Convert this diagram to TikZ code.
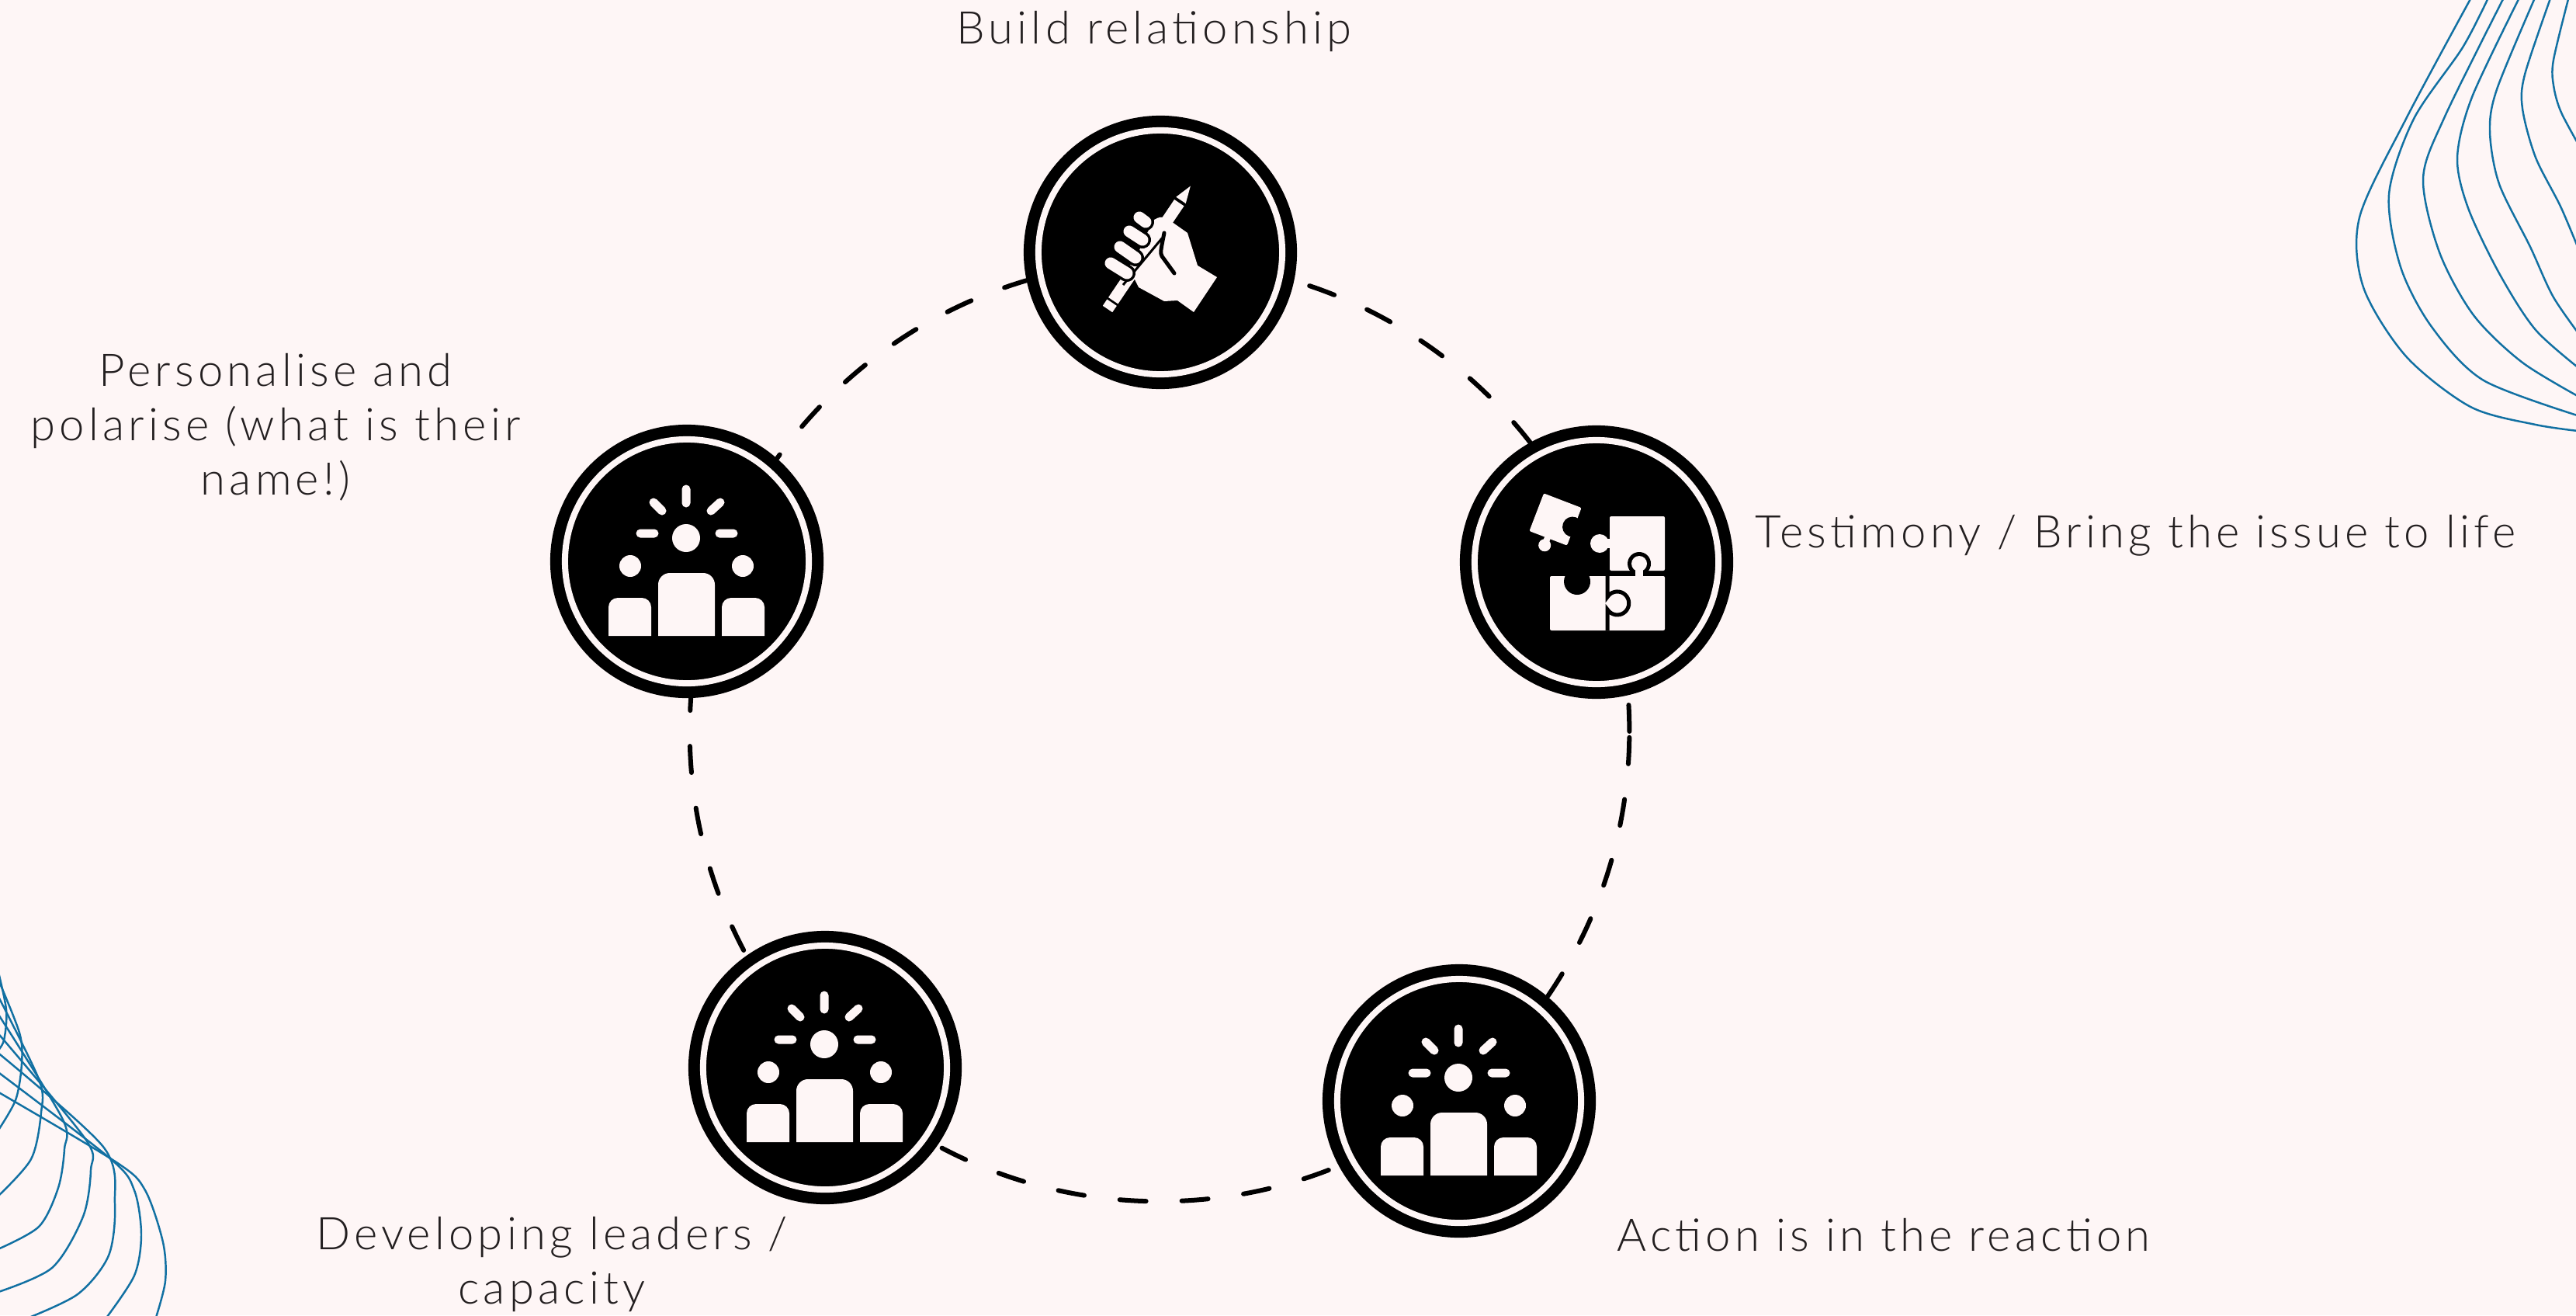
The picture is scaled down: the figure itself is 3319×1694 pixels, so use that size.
\documentclass[tikz,border=0pt]{standalone}
\usepackage{fontspec}
\setmainfont{Lato Light}[LetterSpace=9]
\usepackage{tikz}
\usetikzlibrary{positioning,backgrounds}

\definecolor{paper}{HTML}{FEF6F6}
\definecolor{ink}{HTML}{231F20}
\definecolor{wave}{HTML}{1170A2}

% icons, drawn in pixel units around the badge centre (y grows downward)
\tikzset{
  crowd/.pic={
    \fill[paper] (-1,-30) circle[radius=18];
    \fill[paper] (-73,6) circle[radius=14];
    \fill[paper] (72,6) circle[radius=14];
    \fill[paper] (-37,96) [rounded corners=0.15cm] -- (-37,15) -- (36,15) [sharp corners] -- (36,96) -- cycle;
    \fill[paper] (-101,96) [rounded corners=0.12cm] -- (-101,47) -- (-46,47) [sharp corners] -- (-46,96) -- cycle;
    \fill[paper] (45,96) [rounded corners=0.12cm] -- (45,47) -- (100,47) [sharp corners] -- (100,96) -- cycle;
    \draw[paper, line width=0.11cm, line cap=round]
      (-1,-93) -- (-1,-75) (-43,-76) -- (-32,-65) (43,-76) -- (31,-65)
      (-60,-36) -- (-42,-36) (42,-36) -- (60,-36);
  },
  grip/.pic={
    % pencil
    \begin{scope}[shift={(-68,73)}, rotate=56]
      \fill[paper] (0,-7.5) rectangle (10,7.5);
      \fill[paper] (13,-7.5) rectangle (165,7.5);
      \fill[paper] (169,-7.5) -- (191,0) -- (169,7.5) -- cycle;
    \end{scope}
    % fist
    \fill[paper] (-8,-42) .. controls (0,-46) .. (8,-44) -- (35,-25) -- (48,17) -- (73,32)
      -- (43,77) -- (22,62) -- (5,63) -- (-28,45) -- (-38,25) -- (-22,-15) -- cycle;
    \draw[black, line width=0.03cm] (-48,42) -- (2,-18);
    \draw[black, line width=0.05cm, line cap=round] (5,-25) .. controls (0,0) .. (2,5) -- (18,27);
    \foreach \a/\b in {{(-64,14)}/{(-43,27)}, {(-52,-7)}/{(-32,7)}, {(-40,-27)}/{(-23,-16)}, {(-27,-45)}/{(-19,-39)}} {
      \draw[black, line width=0.22cm, line cap=round] \a -- \b;
      \draw[paper, line width=0.15cm, line cap=round] \a -- \b;
    }
  },
  jigsaw/.pic={
    % loose piece
    \begin{scope}[shift={(-53,-55)}, rotate=-21]
      \fill[paper, rounded corners=0.02cm] (-26,-26) rectangle (26,26);
      \fill[paper] (-1,36) circle[radius=8];
      \fill[paper] (-5,24) rectangle (3,32);
      \fill[black] (24,1) circle[radius=13];
    \end{scope}
    % upper right piece
    \fill[paper, rounded corners=0.02cm] (17,-59) rectangle (88,11);
    \fill[paper] (4,-24) circle[radius=12];
    \fill[paper] (4,-30) rectangle (18,-18);
    % lower pair
    \fill[paper, rounded corners=0.02cm] (-60,18) rectangle (88,88);
    \fill[black] (-25,25) circle[radius=17];
    \draw[black, line width=0.05cm] (14,18) -- (14,45) arc[start angle=212, end angle=508, radius=15] -- (14,88);
    \fill[black] (55,2) circle[radius=15];
    \fill[paper] (55,2) circle[radius=10];
    \fill[paper] (50,2) rectangle (60,19);
  },
}

\begin{document}
\begin{tikzpicture}[x=0.01cm, y=-0.01cm,
  badge/.style={circle, fill=black, draw=black, line width=0.15cm,
                double=paper, double distance=0.08cm,
                minimum size=3.14cm, inner sep=0pt},
  caption/.style={text=ink, font=\fontsize{16.5}{19.9}\selectfont,
                  inner sep=0pt, align=center},
  ring/.style={draw=black, line width=0.06cm, line cap=round,
               dash pattern=on 0.34cm off 0.46cm},
  swirl/.style={draw=wave, line width=0.7pt},
]
\useasboundingbox (0,0) rectangle (3319,1694);

\coordinate (hub) at (1494,942);

% badges
\node[badge] (build) at (1495,325) {};
\node[badge] (testimony) at (2057,724) {};
\node[badge] (action) at (1880,1418) {};
\node[badge] (leaders) at (1063,1375) {};
\node[badge] (personal) at (885,723) {};

\pic at (build) {grip};
\pic at (testimony) {jigsaw};
\pic at (action) {crowd};
\pic at (leaders) {crowd};
\pic at (personal) {crowd};

% captions
\node[caption, anchor=base] (buildtxt) at (1487,57) {Build relationship};
\node[caption, anchor=base west] (testtxt) at (2261,705) {Testimony / Bring the issue to life};
\node[caption, anchor=base] (actiontxt) at (2427,1611) {Action is in the reaction};
\node[caption] (leadtxt) at (711,1628) {Developing leaders /\\capacity};
\node[caption] (persontxt) at (355,550) {Personalise and\\polarise (what is their\\name!)};

\begin{scope}[on background layer]
  \fill[paper] (0,0) rectangle (3319,1694);
  \draw[ring] (hub) circle[radius=6.05cm];
  \begin{scope}
    \clip (0,0) rectangle (3319,1694);
    % top right swirls
    \draw[swirl] plot[smooth] coordinates {(3185,-5) (3100,153) (3040,280) (3045,370) (3100,459) (3183,524) (3267,547) (3330,556)};
    \draw[swirl] plot[smooth] coordinates {(3207,-5) (3173,61) (3110,153) (3078,250) (3093,344) (3133,421) (3200,490) (3330,538)};
    \draw[swirl] plot[smooth] coordinates {(3227,-5) (3150,150) (3122,230) (3143,325) (3187,406) (3250,467) (3330,515)};
    \draw[swirl] plot[smooth] coordinates {(3247,-5) (3185,125) (3166,203) (3180,268) (3220,352) (3267,425) (3330,480)};
    \draw[swirl] plot[smooth] coordinates {(3267,-5) (3217,115) (3208,170) (3220,237) (3260,318) (3290,383) (3330,440)};
    \draw[swirl] plot[smooth] coordinates {(3287,-5) (3253,96) (3250,140) (3267,203) (3300,268) (3330,340)};
    \draw[swirl] plot[smooth] coordinates {(3310,-5) (3290,77) (3290,110) (3300,145) (3330,200)};
    % bottom left swirls
    \draw[swirl] plot[smooth] coordinates {(-5,1240) (8,1300) (5,1340) (-5,1356)};
    \draw[swirl] plot[smooth] coordinates {(-5,1255) (25,1330) (28,1370) (20,1417) (-5,1460)};
    \draw[swirl] plot[smooth] coordinates {(-5,1278) (50,1390) (53,1433) (40,1493) (-5,1543)};
    \draw[swirl] plot[smooth] coordinates {(-5,1302) (80,1440) (83,1480) (75,1530) (50,1580) (-5,1610)};
    \draw[swirl] plot[smooth] coordinates {(-5,1328) (110,1467) (117,1507) (107,1567) (67,1633) (-5,1665)};
    \draw[swirl] plot[smooth] coordinates {(-5,1354) (133,1477) (148,1550) (140,1617) (100,1667) (30,1700)};
    \draw[swirl] plot[smooth] coordinates {(-5,1379) (143,1493) (173,1533) (182,1590) (173,1643) (135,1700)};
    \draw[swirl] plot[smooth] coordinates {(-5,1405) (150,1497) (187,1533) (210,1600) (213,1650) (200,1700)};
  \end{scope}
\end{scope}
\end{tikzpicture}
\end{document}
